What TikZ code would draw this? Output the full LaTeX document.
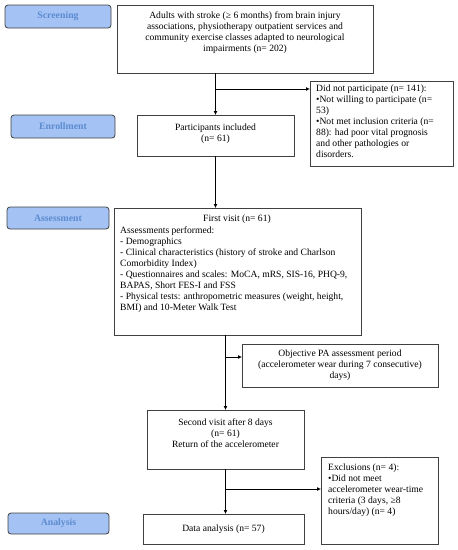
\documentclass[tikz,border=0pt]{standalone}
\usepackage{fontspec}
\setmainfont{Liberation Serif}
\usetikzlibrary{arrows.meta}
\definecolor{lblfill}{HTML}{A4C2F4}
\definecolor{lbltext}{HTML}{5B8BD0}
\definecolor{boxgray}{HTML}{404040}
\tikzset{
  stage/.style={draw=boxgray, line width=0.8pt, fill=lblfill, rounded corners=3pt, inner sep=0pt, outer sep=0pt, anchor=north west, font=\fontsize{9.8}{10}\selectfont\bfseries, text=lbltext},
  flowbox/.style={draw=boxgray, line width=0.9pt, inner sep=0pt, outer sep=0pt, anchor=north west},
  txt/.style={inner sep=0pt, font=\fontsize{9.6}{11}\selectfont},
  arr/.style={line width=0.9pt, -{Latex[length=4pt,width=4pt]}}
}
\begin{document}
\begin{tikzpicture}[x=1pt,y=-1pt]
\useasboundingbox (0,0) rectangle (458,550);
% stage labels
\node[stage, minimum width=106pt, minimum height=23pt] (s1) at (5,5) {Screening};
\node[stage, minimum width=104pt, minimum height=23pt] (s2) at (11,115) {Enrollment};
\node[stage, minimum width=102pt, minimum height=22pt] (s3) at (7,207) {Assessment};
\node[stage, minimum width=101pt, minimum height=21pt] (s4) at (8,513) {Analysis};
% boxes
\node[flowbox, minimum width=256pt, minimum height=68pt] (b1) at (117,5) {};
\node[txt, anchor=north, align=center] (b1t) at (245,12) {Adults with stroke (≥ 6 months) from brain injury\\associations, physiotherapy outpatient services and\\community exercise classes adapted to neurological\\impairments (n= 202)};
\node[flowbox, minimum width=143pt, minimum height=85pt] (e1) at (310,81) {};
\node[txt, anchor=north west, align=left] (e1t) at (316,84.5) {Did not participate (n= 141):\\•Not willing to participate (n=\\53)\\•Not met inclusion criteria (n=\\88): had poor vital prognosis\\and other pathologies or\\disorders.};
\node[flowbox, minimum width=157pt, minimum height=41pt] (p) at (137,115) {};
\node[txt, anchor=north, align=center] (pt) at (p.north) [yshift=-9pt] {Participants included\\(n= 61)};
\node[flowbox, minimum width=247pt, minimum height=127pt] (fv) at (114,208) {};
\node[txt, anchor=north] (fvh) at (237,215) {First visit (n= 61)};
\node[txt, anchor=north west, align=left] (fvt) at (120,226.5) {Assessments performed:\\- Demographics\\- Clinical characteristics (history of stroke and Charlson\\Comorbidity Index)\\- Questionnaires and scales: MoCA, mRS, SIS-16, PHQ-9,\\BAPAS, Short FES-I and FSS\\- Physical tests: anthropometric measures (weight, height,\\BMI) and 10-Meter Walk Test};
\node[flowbox, minimum width=196pt, minimum height=43pt] (ob) at (242,344) {};
\node[txt, anchor=center, align=center] (obt) at (ob.center) {Objective PA assessment period\\(accelerometer wear during 7 consecutive)\\days)};
\node[flowbox, minimum width=157pt, minimum height=59pt] (sv) at (147,410) {};
\node[txt, anchor=north, align=center] (svt) at (sv.north) [yshift=-8.5pt] {Second visit after 8 days\\(n= 61)\\Return of the accelerometer};
\node[flowbox, minimum width=117pt, minimum height=87pt] (ex) at (321,457) {};
\node[txt, anchor=north west, align=left] (ext) at (328,464) {Exclusions (n= 4):\\•Did not meet\\accelerometer wear-time\\criteria (3 days, ≥8\\hours/day) (n= 4)};
\node[flowbox, minimum width=161pt, minimum height=30pt] (da) at (143,514) {};
\node[txt] (dat) at (da.center) {Data analysis (n= 57)};
% connectors
\draw[arr] (b1.south -| p.north) -- (p.north);
\draw[arr] (p.north |- 0,89) -- (e1.west |- 0,89);
\draw[arr] (p.south) -- (p.south |- fv.north);
\draw[arr] (sv.north |- fv.south) -- (sv.north);
\draw[arr] (sv.north |- 0,357) -- (ob.west |- 0,357);
\draw[arr] (sv.south) -- (sv.south |- da.north);
\draw[arr] (sv.south |- 0,489) -- (ex.west |- 0,489);
\end{tikzpicture}
\end{document}
